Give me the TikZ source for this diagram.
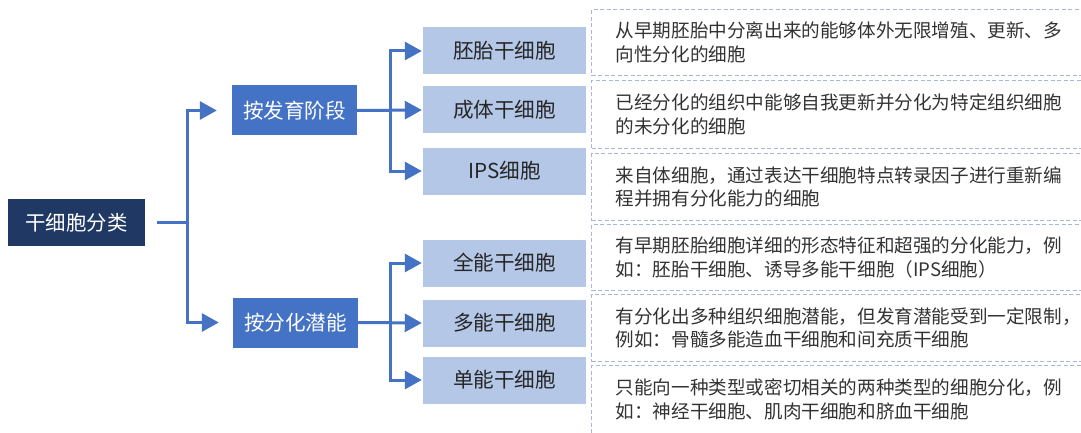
\documentclass[tikz,border=0pt]{standalone}
\usepackage{fontspec}
\newfontfamily\cjk{Noto Sans CJK SC}
\usetikzlibrary{arrows.meta}
\definecolor{navy}{HTML}{203864}
\definecolor{midblue}{HTML}{4472C4}
\definecolor{lightblue}{HTML}{B4C7E7}
\definecolor{dashcol}{HTML}{A9B7D3}
\definecolor{txtdark}{HTML}{262626}
\definecolor{desctxt}{HTML}{333333}
\tikzset{
  rootbox/.style={fill=navy, text=white, minimum width=137pt, minimum height=47pt, inner sep=0pt,
    font=\cjk\fontsize{20.4}{24}\selectfont},
  midbox/.style={fill=midblue, text=white, minimum width=125pt, minimum height=50pt, inner sep=0pt,
    font=\cjk\fontsize{20.6}{24}\selectfont},
  childbox/.style={fill=lightblue, text=txtdark, minimum width=163pt, minimum height=47pt, inner sep=0pt,
    font=\cjk\fontsize{20.6}{24}\selectfont},
  descbox/.style={draw=dashcol, line width=1.2pt, dash pattern=on 4pt off 2.5pt, anchor=north west,
    text width=468pt, inner xsep=24pt, inner ysep=0pt, align=left, text=desctxt,
    font=\cjk\fontsize{18.6}{23.5}\selectfont},
  conn/.style={draw=midblue, line width=3pt, -{Triangle[length=17pt,width=18pt]}},
}
\begin{document}
\begin{tikzpicture}[x=1pt,y=-1pt]
\useasboundingbox (0,0) rectangle (1081,433);
% root
\node[rootbox] (root) at (76.5,222.5) {干细胞分类};
% middle
\node[midbox] (m1) at (294.5,110.5) {按发育阶段};
\node[midbox] (m2) at (295.5,322.5) {按分化潜能};
% children
\node[childbox] (c1) at (504.5,51) {胚胎干细胞};
\node[childbox] (c2) at (504.5,110) {成体干细胞};
\node[childbox] (c3) at (504.5,171) {IPS细胞};
\node[childbox] (c4) at (504.5,263) {全能干细胞};
\node[childbox] (c5) at (504.5,323) {多能干细胞};
\node[childbox] (c6) at (504.5,380) {单能干细胞};
% descriptions
\node[descbox, minimum height=66pt] (d1) at (591,9) {从早期胚胎中分离出来的能够体外无限增殖、更新、多\\向性分化的细胞};
\node[descbox, minimum height=68pt] (d2) at (591,80) {已经分化的组织中能够自我更新并分化为特定组织细胞\\的未分化的细胞};
\node[descbox, minimum height=67pt] (d3) at (591,153) {来自体细胞，通过表达干细胞特点转录因子进行重新编\\程并拥有分化能力的细胞};
\node[descbox, minimum height=66pt] (d4) at (591,224) {有早期胚胎细胞详细的形态特征和超强的分化能力，例\\如：胚胎干细胞、诱导多能干细胞（IPS细胞）};
\node[descbox, minimum height=67pt] (d5) at (591,294) {有分化出多种组织细胞潜能，但发育潜能受到一定限制，\\例如：骨髓多能造血干细胞和间充质干细胞};
\node[descbox, minimum height=68pt] (d6) at (591,365) {只能向一种类型或密切相关的两种类型的细胞分化，例\\如：神经干细胞、肌肉干细胞和脐血干细胞};
% branch points
\coordinate (b0) at (187,222.5);
\coordinate (b1) at (390,110.5);
\coordinate (b2) at (390,322.5);
% connectors
\draw[conn, shorten <=12pt, shorten >=15pt] (root.east) -- (b0) |- (m1.west);
\draw[conn, shorten <=12pt, shorten >=14pt] (root.east) -- (b0) |- (m2.west);
\draw[conn, shorten >=1pt] (m1.east) -- (b1) |- (c1.west);
\draw[conn, shorten >=1pt] (m1.east) -- (c2.west);
\draw[conn, shorten >=1pt] (m1.east) -- (b1) |- (c3.west);
\draw[conn, shorten >=1pt] (m2.east) -- (b2) |- (c4.west);
\draw[conn, shorten >=1pt] (m2.east) -- (c5.west);
\draw[conn, shorten >=1pt] (m2.east) -- (b2) |- (c6.west);
\end{tikzpicture}
\end{document}
